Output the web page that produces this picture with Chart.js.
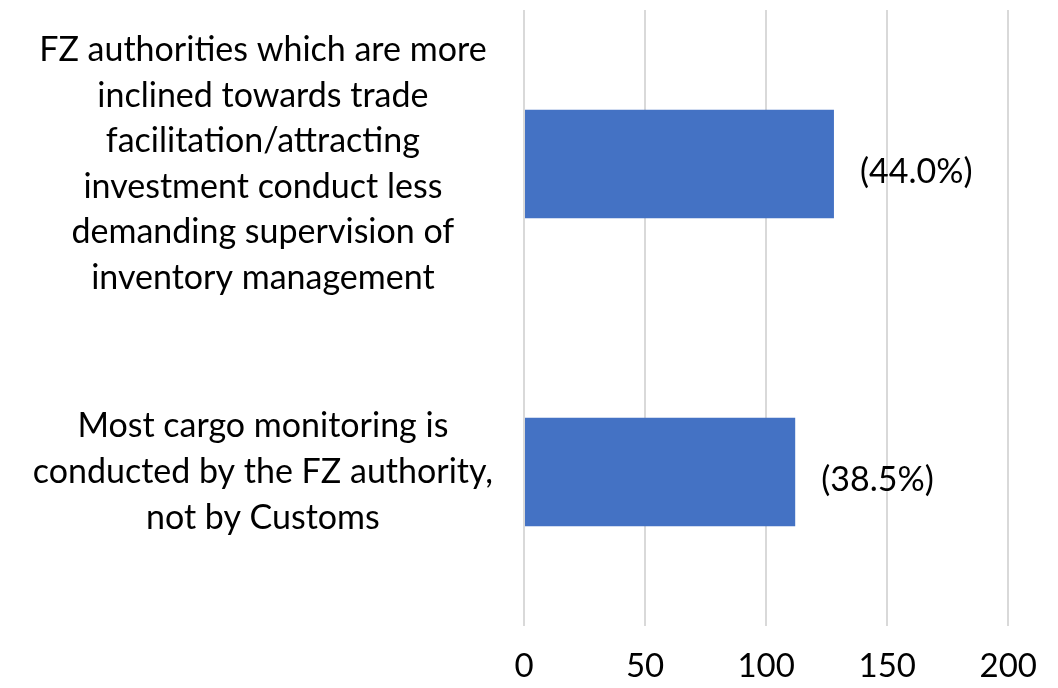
<!DOCTYPE html>
<html>
<head>
<meta charset="utf-8">
<script src="https://cdn.jsdelivr.net/npm/chart.js@4"></script>
<style>
  html, body { margin: 0; padding: 0; background: #fff; }
  #wrap { width: 1058px; height: 688px; position: relative; }
</style>
</head>
<body>
<div id="wrap"><canvas id="chart"></canvas></div>
<script>
// Kategorien (mehrzeilig wie im Original)
const categories = [
    ['FZ authorities which are more', 'inclined towards trade', 'facilitation/attracting',
     'investment conduct less', 'demanding supervision of', 'inventory management'],
    ['Most cargo monitoring is', 'conducted by the FZ authority,', 'not by Customs']
];
const counts = [128, 112];
const shareLabels = ['(44.0%)', '(38.5%)'];
const xTicks = [0, 50, 100, 150, 200];

const FONT = 'Lato';
Chart.defaults.font.family = FONT;
Chart.defaults.color = '#000';

// Prozent-Labels rechts neben den Balken
const shareLabelPlugin = {
    id: 'shareLabels',
    afterDatasetsDraw(chart) {
        const ctx = chart.ctx;
        const meta = chart.getDatasetMeta(0);
        ctx.save();
        ctx.font = `34px ${FONT}`;
        ctx.fillStyle = '#000';
        ctx.textAlign = 'left';
        ctx.textBaseline = 'middle';
        meta.data.forEach((bar, i) => {
            ctx.fillText(shareLabels[i], bar.x + 26, bar.y + 8);
        });
        ctx.restore();
    }
};

new Chart(document.getElementById('chart').getContext('2d'), {
    type: 'bar',
    data: {
        labels: categories,
        datasets: [{
            data: counts,
            backgroundColor: '#4472C4',
            borderWidth: 0,
            categoryPercentage: 1,
            barPercentage: 0.353
        }]
    },
    options: {
        indexAxis: 'y',
        responsive: true,
        maintainAspectRatio: false,
        animation: false,
        layout: { padding: { top: 10, right: 44, left: 0, bottom: 0 } },
        plugins: {
            legend: { display: false },
            tooltip: { enabled: false }
        },
        scales: {
            x: {
                min: 0,
                max: 200,
                afterBuildTicks: s => { s.ticks = xTicks.map(v => ({ value: v })); },
                afterFit: s => { s.height = 62; },
                border: { display: false },
                grid: { color: '#d9d9d9', lineWidth: 2, drawTicks: false },
                ticks: { padding: 21, font: { size: 33 }, maxRotation: 0 }
            },
            y: {
                afterFit: s => { s.width = 524; s.paddingTop = 0; s.paddingBottom = 0; },
                border: { display: false },
                grid: { display: false, drawTicks: false },
                ticks: {
                    crossAlign: 'center',
                    padding: 31,
                    font: { size: 34, lineHeight: 1.34 }
                }
            }
        }
    },
    plugins: [shareLabelPlugin]
});
</script>
</body>
</html>
